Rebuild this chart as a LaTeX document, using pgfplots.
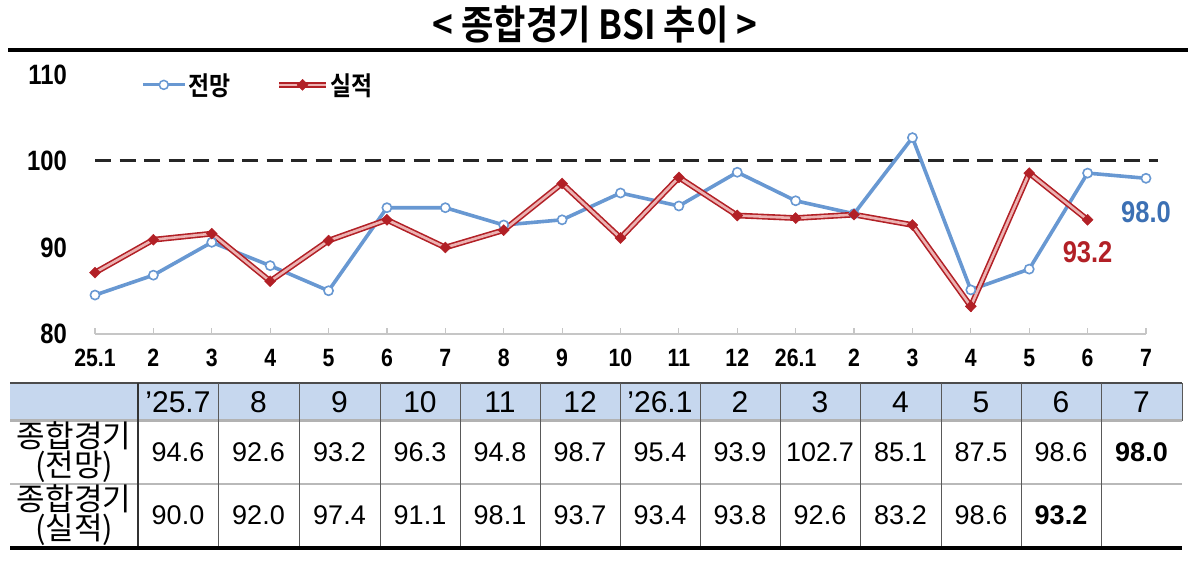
\documentclass[border=0pt]{standalone}
\usepackage{pgfplots}
\pgfplotsset{compat=1.18}
\usepackage{pgfplotstable}
\usepackage{fontspec}
\setmainfont{Liberation Sans}
\newfontfamily\kr{Noto Sans CJK KR}
\newfontfamily\krb{Noto Sans CJK KR Bold}[FakeStretch=0.88]
\newfontfamily\condb{Liberation Sans}[FakeStretch=0.85]

\definecolor{lblue}{RGB}{104,152,210}
\definecolor{tblue}{RGB}{60,112,180}
\definecolor{dred}{RGB}{178,32,38}
\definecolor{pinkc}{RGB}{236,178,178}
\definecolor{hdr}{RGB}{198,215,238}

\pgfplotstableread{
x y
0 84.5
1 86.8
2 90.6
3 87.9
4 85.0
5 94.6
6 94.6
7 92.6
8 93.2
9 96.3
10 94.8
11 98.7
12 95.4
13 93.9
14 102.7
15 85.1
16 87.5
17 98.6
18 98.0
}\outlook

\pgfplotstableread{
x y
0 87.1
1 90.9
2 91.6
3 86.1
4 90.8
5 93.2
6 90.0
7 92.0
8 97.4
9 91.1
10 98.1
11 93.7
12 93.4
13 93.8
14 92.6
15 83.2
16 98.6
17 93.2
}\actual

\begin{document}
\begin{tikzpicture}
\useasboundingbox (0pt,0pt) rectangle (1200pt,561pt);
% title
\node[font=\krb\fontsize{40}{42}\selectfont, inner sep=0pt] at (595pt,537pt) {< 종합경기 BSI 추이 >};
\draw[black, line width=3.5pt] (8pt,511pt) -- (1188pt,511pt);

\begin{axis}[
  at={(95pt,227pt)}, anchor=south west,
  scale only axis, width=1051pt, height=259.5pt,
  xmin=0, xmax=18, ymin=80, ymax=110,
  axis x line*=bottom, axis y line*=left,
  x axis line style={draw=gray!45, line width=1.5pt},
  y axis line style={draw=none},
  xtick={0,...,18},
  xticklabels={25.1,2,3,4,5,6,7,8,9,10,11,12,26.1,2,3,4,5,6,7},
  ytick={80,90,100,110},
  yticklabels={80,90,100,110},
  x tick style={draw=gray!45, line width=1.2pt},
  y tick style={draw=none},
  major tick length=6pt,
  tick align=inside,
  xticklabel style={font=\condb\bfseries\fontsize{25}{25}\selectfont, anchor=north, inner sep=0pt, yshift=-15pt},
  yticklabel style={font=\condb\bfseries\fontsize{28}{28}\selectfont, anchor=east, inner sep=0pt, xshift=-28pt},
  clip=false,
  legend columns=2,
  legend style={at={(0.041,0.96)}, anchor=west, draw=none, fill=none,
    font=\krb\fontsize{26}{26}\selectfont, nodes={inner sep=2pt},
    /tikz/every even column/.append style={column sep=44pt}},
  legend cell align=left,
]
\addlegendimage{legend image code/.code={\draw[lblue, line width=3pt] (0pt,0pt) -- (42pt,0pt); \draw[lblue, line width=1.5pt, fill=white] (21pt,0pt) circle (4.5pt);}}
\addlegendentry{전망}
\addlegendimage{legend image code/.code={\draw[dred, line width=1.5pt, double=pinkc, double distance=2.4pt] (0pt,0pt) -- (47pt,0pt); \fill[dred] (23.5pt,0pt) +(-5.5pt,0pt) -- +(0pt,5.5pt) -- +(5.5pt,0pt) -- +(0pt,-5.5pt) -- cycle;}}
\addlegendentry{실적}

\addplot[black!85, line width=3pt, dash pattern=on 16pt off 8.5pt, forget plot] coordinates {(0,100) (18.2,100)};

\addplot[lblue, line width=3.6pt, mark=*, mark size=4.6pt, mark options={fill=white, draw=lblue, line width=1.6pt}, forget plot] table[x=x,y=y] {\outlook};

\addplot[dred, line width=1.6pt, double=pinkc, double distance=2.6pt, forget plot] table[x=x,y=y] {\actual};
\addplot[only marks, mark=square*, mark size=3.9pt, mark options={rotate=45, fill=dred, draw=dred}, forget plot] table[x=x,y=y] {\actual};

\node[text=tblue, font=\condb\bfseries\fontsize{30}{30}\selectfont] at (axis cs:18,94.1) {98.0};
\node[text=dred, font=\condb\bfseries\fontsize{30}{30}\selectfont] at (axis cs:17,89.5) {93.2};
\end{axis}

% table
\fill[hdr] (10pt,140pt) rectangle (1182pt,178pt);
\draw[gray!60!black, line width=1.5pt] (10pt,178pt) -- (1182pt,178pt);
\draw[gray!60, line width=3pt] (10pt,140pt) -- (1182pt,140pt);
\draw[gray!55, line width=1.2pt] (10pt,77pt) -- (1182pt,77pt);
\foreach \xx in {218,299,380,460,540,620,700,780,860,941,1021,1101}
  \draw[gray!70!black, line width=0.9pt] (\xx pt,178pt) -- (\xx pt,13pt);
\draw[black!80, line width=1.3pt] (138pt,178pt) -- (138pt,13pt);
\draw[gray!70!black, line width=0.9pt] (1182pt,178pt) -- (1182pt,140pt);
\draw[black, line width=3.5pt] (10pt,13pt) -- (1182pt,13pt);

\node[font=\kr\fontsize{31}{29}\selectfont, align=center, inner sep=0pt] at (74pt,109pt) {종합경기\\(전망)};
\node[font=\kr\fontsize{31}{29}\selectfont, align=center, inner sep=0pt] at (74pt,46pt) {종합경기\\(실적)};

\foreach \c/\h/\a/\b in {
  178/’25.7/94.6/90.0,
  258.5/8/92.6/92.0,
  339.5/9/93.2/97.4,
  420/10/96.3/91.1,
  500/11/94.8/98.1,
  580/12/98.7/93.7,
  660/’26.1/95.4/93.4,
  740/2/93.9/93.8,
  820/3/102.7/92.6,
  900.5/4/85.1/83.2,
  981/5/87.5/98.6,
  1061/6/98.6/{\bfseries 93.2},
  1141.5/7/{\bfseries 98.0}/{}}
{
  \node[font=\fontsize{30}{30}\selectfont] at (\c pt,159pt) {\h};
  \node[font=\fontsize{27}{27}\selectfont] at (\c pt,109pt) {\a};
  \node[font=\fontsize{27}{27}\selectfont] at (\c pt,46pt) {\b};
}
\end{tikzpicture}
\end{document}
